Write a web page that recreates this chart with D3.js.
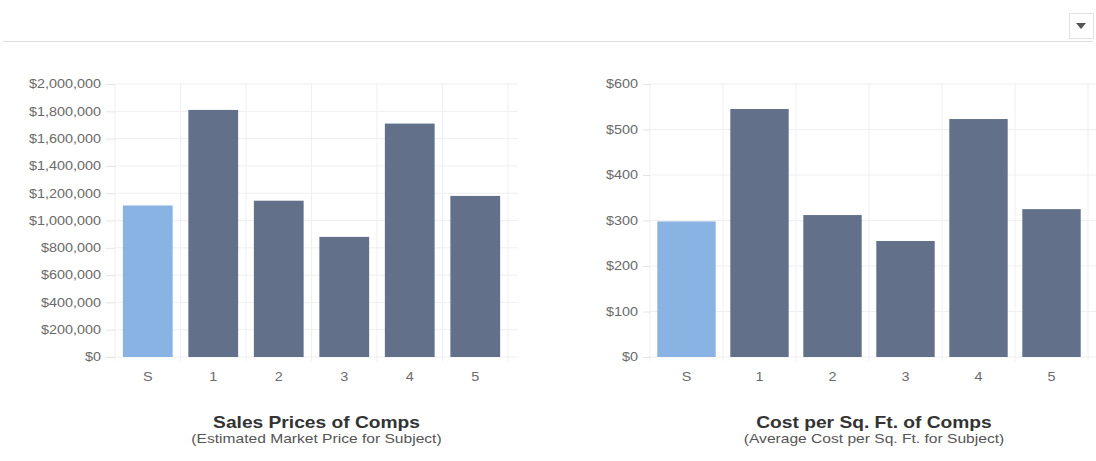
<!DOCTYPE html>
<html>
<head>
<meta charset="utf-8">
<script src="https://cdn.jsdelivr.net/npm/d3@7"></script>
<style>
  body { margin: 0; background: #fff; font-family: "Liberation Sans", Arial, sans-serif; }
  .axis text { fill: #6a6a6a; font-size: 12px; font-family: "Liberation Sans", Arial, sans-serif; }
  .axis .domain { display: none; }
  .axis line { stroke: #e4e4e4; }
  .title { font-size: 16px; font-weight: bold; fill: #333; }
  .subtitle { font-size: 13px; fill: #555; }
</style>
</head>
<body>
<svg id="chart" width="1096" height="461"></svg>
<script>
// Data
const categories = ["S", "1", "2", "3", "4", "5"];
const salesPrices = [1110000, 1810000, 1145000, 880000, 1710000, 1180000];
const costPerSqFt = [298, 545, 312, 255, 523, 325];

const subjectColor = "#89b3e3";
const compColor = "#62708a";
const stretch = 1.2; // text in the source is a little wide

const svg = d3.select("#chart");

// Header rule and dropdown button
svg.append("line")
    .attr("x1", 3).attr("x2", 1093)
    .attr("y1", 41.5).attr("y2", 41.5)
    .attr("stroke", "#dcdcdc");

svg.append("rect")
    .attr("x", 1069.5).attr("y", 13.5)
    .attr("width", 24).attr("height", 25)
    .attr("fill", "#fff")
    .attr("stroke", "#e2e2e2");

svg.append("path")
    .attr("d", "M1076,23 L1086,23 L1081,29 Z")
    .attr("fill", "#555");

function drawChart(opts) {
    const { left, right, values, domainMax, tickCount, pad, tickSize, title, subtitle } = opts;
    const top = 84, bottom = 357;

    const x = d3.scaleBand()
        .domain(categories)
        .range([left, right])
        .paddingInner(pad)
        .paddingOuter(pad / 2);

    const y = d3.scaleLinear()
        .domain([0, domainMax])
        .range([bottom, top]);

    const g = svg.append("g");

    // Horizontal grid lines
    g.append("g")
        .selectAll("line")
        .data(y.ticks(tickCount))
        .join("line")
        .attr("x1", left).attr("x2", right + 10)
        .attr("y1", d => y(d)).attr("y2", d => y(d))
        .attr("stroke", "#efefef");

    // Vertical grid lines at band boundaries
    const bounds = d3.range(categories.length + 1).map(i => left + i * x.step());
    g.append("g")
        .selectAll("line")
        .data(bounds)
        .join("line")
        .attr("x1", d => d).attr("x2", d => d)
        .attr("y1", top).attr("y2", bottom + 4)
        .attr("stroke", "#efefef");

    // Y axis
    const yAxis = g.append("g")
        .attr("class", "axis")
        .attr("transform", `translate(${left},0)`)
        .call(d3.axisLeft(y)
            .ticks(tickCount)
            .tickSize(tickSize)
            .tickPadding(5)
            .tickFormat(d => "$" + d3.format(",")(d)));

    yAxis.selectAll(".tick text")
        .attr("x", -(tickSize + 5) / stretch)
        .attr("transform", `scale(${stretch},1)`);

    // X axis
    const xAxis = g.append("g")
        .attr("class", "axis")
        .attr("transform", `translate(0,${bottom})`)
        .call(d3.axisBottom(x).tickSize(0).tickPadding(15));

    xAxis.selectAll(".tick text")
        .attr("transform", `scale(${stretch},1)`);

    // Bars
    g.selectAll(".bar")
        .data(values)
        .join("rect")
        .attr("class", "bar")
        .attr("x", (d, i) => x(categories[i]))
        .attr("y", d => y(d))
        .attr("width", x.bandwidth())
        .attr("height", d => bottom - y(d))
        .attr("fill", (d, i) => i === 0 ? subjectColor : compColor);

    // Titles
    const cx = left + (right - left) / 2 + 5;
    g.append("text")
        .attr("class", "title")
        .attr("transform", `translate(${cx},428) scale(${stretch},1)`)
        .attr("text-anchor", "middle")
        .text(title);

    g.append("text")
        .attr("class", "subtitle")
        .attr("transform", `translate(${cx},443) scale(${stretch},1)`)
        .attr("text-anchor", "middle")
        .text(subtitle);
}

drawChart({
    left: 115, right: 508,
    values: salesPrices,
    domainMax: 2000000,
    tickCount: 10,
    pad: 0.24,
    tickSize: 9,
    title: "Sales Prices of Comps",
    subtitle: "(Estimated Market Price for Subject)"
});

drawChart({
    left: 650, right: 1088,
    values: costPerSqFt,
    domainMax: 600,
    tickCount: 6,
    pad: 0.2,
    tickSize: 7,
    title: "Cost per Sq. Ft. of Comps",
    subtitle: "(Average Cost per Sq. Ft. for Subject)"
});
</script>
</body>
</html>
